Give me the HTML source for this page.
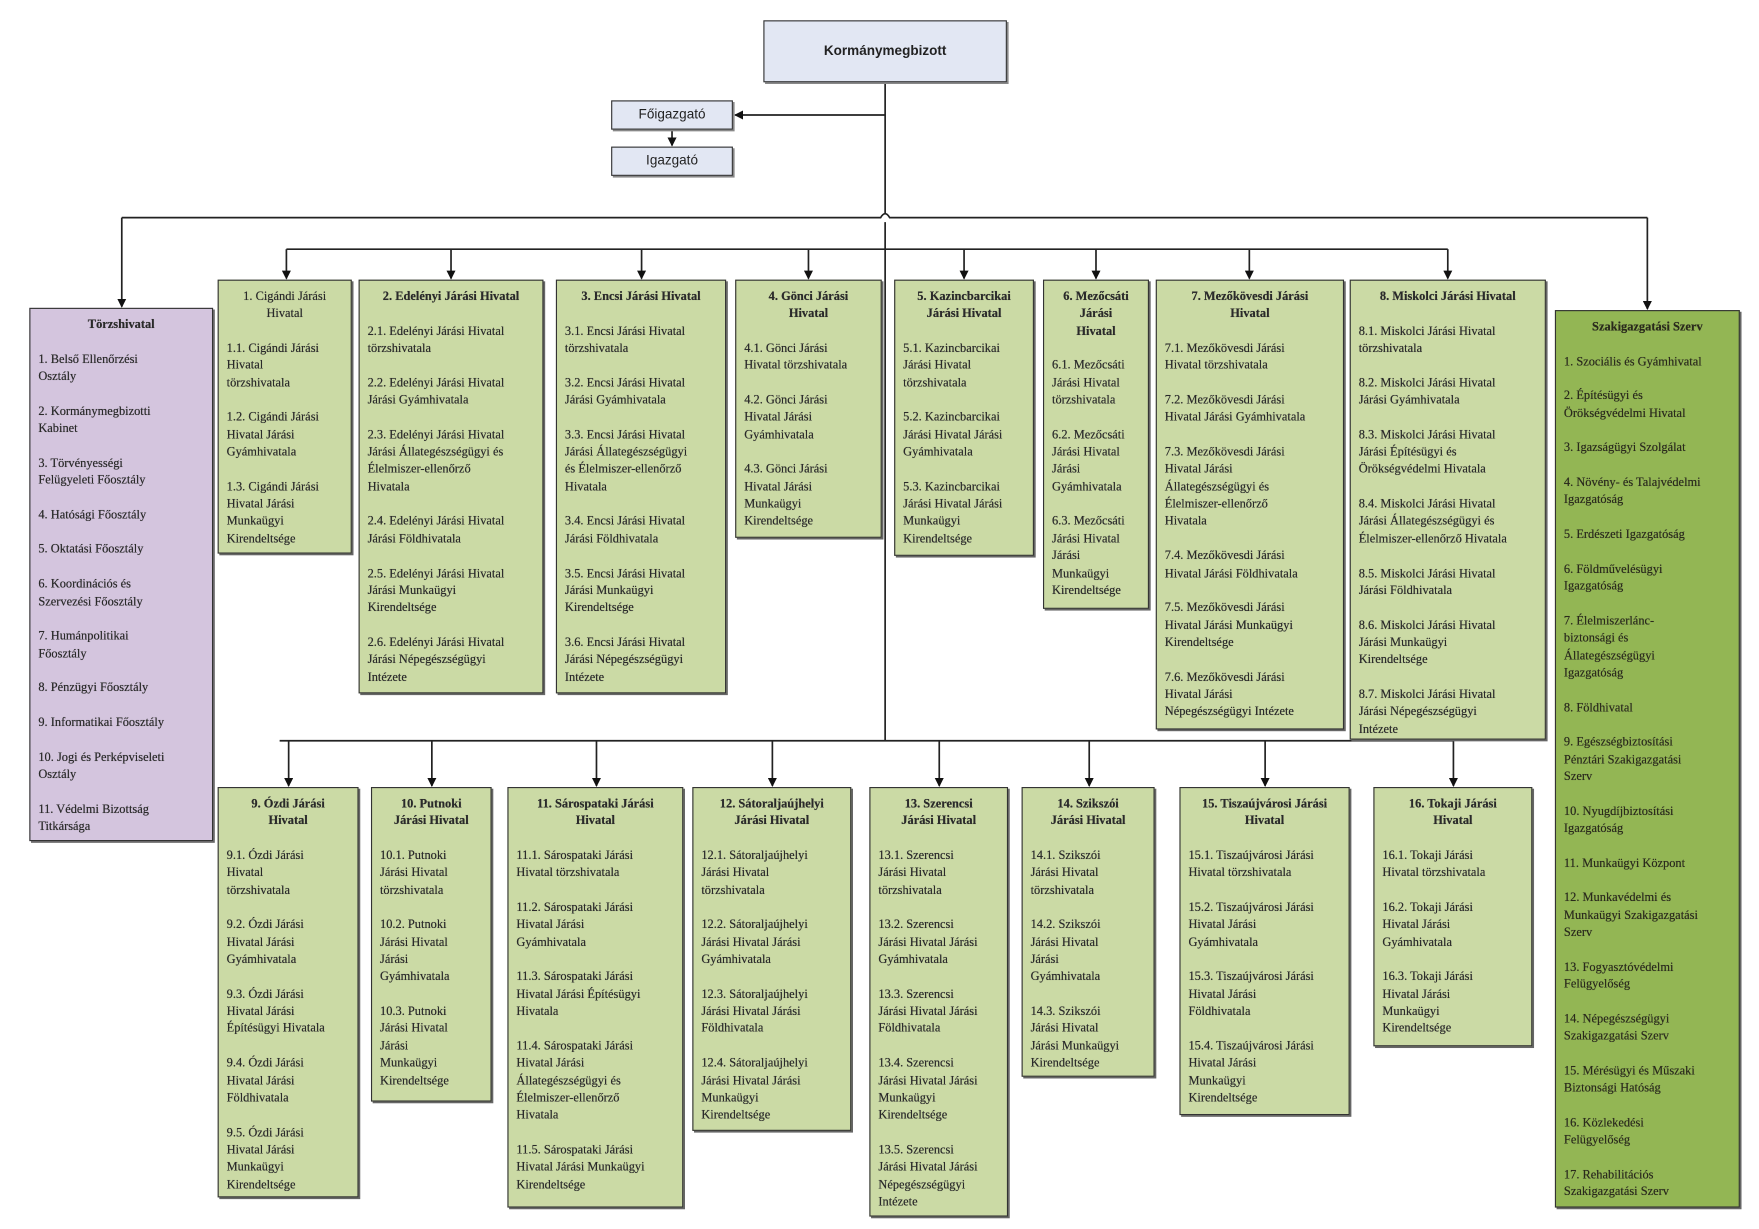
<!DOCTYPE html>
<html><head><meta charset="utf-8"><style>
html,body{margin:0;padding:0;background:#fff;width:1759px;height:1229px;overflow:hidden}
#s{position:absolute;left:0;top:0;width:1560px;height:1090px;transform:scale(1.12756,1.12752);transform-origin:0 0}
.b{position:absolute;box-sizing:border-box;border:1.5px solid #333;box-shadow:1.5px 1.5px 0 #666;background:#cbdaa5;font-family:"Liberation Serif",serif;font-size:11px;line-height:15.35px;color:#2a2a2a;padding:7px 0 0 7px;white-space:nowrap;text-shadow:0 0 0.4px #333}
.b p{margin:0 0 15.35px 0}
.b .t{font-weight:bold;text-align:center;margin-left:-7px}
.n{position:absolute;box-sizing:border-box;border:1.5px solid #333;box-shadow:1.5px 1.5px 0 #888;background:#e2e7f3;font-family:"Liberation Sans",sans-serif;font-size:12px;color:#222;text-align:center}
svg{position:absolute;left:0;top:0}
</style></head><body><div id="s">
<svg width="1560" height="1090" viewBox="0 0 1560 1090">
<defs><marker id="a" markerWidth="8" markerHeight="8" refX="7" refY="4" orient="auto" markerUnits="userSpaceOnUse"><path d="M0,0 L8,4 L0,8z" fill="#111"/></marker></defs>
<g stroke="#222" stroke-width="1.5" fill="none">
<path d="M785 73 V189 M785 197 V657"/>
<path d="M785 102 H652" marker-end="url(#a)"/>
<path d="M596 115 V129" marker-end="url(#a)"/>
<path d="M108 193 H781 Q785 186 789 193 H1461"/>
<path d="M108 193 V272" marker-end="url(#a)"/>
<path d="M1461 193 V274" marker-end="url(#a)"/>
<path d="M254 221 H1284"/>
<path d="M254 221V247" marker-end="url(#a)"/>
<path d="M400 221V247" marker-end="url(#a)"/>
<path d="M569 221V247" marker-end="url(#a)"/>
<path d="M717 221V247" marker-end="url(#a)"/>
<path d="M855 221V247" marker-end="url(#a)"/>
<path d="M972 221V247" marker-end="url(#a)"/>
<path d="M1108 221V247" marker-end="url(#a)"/>
<path d="M1284 221V247" marker-end="url(#a)"/>
<path d="M248 657 H1289"/>
<path d="M256 657V697" marker-end="url(#a)"/>
<path d="M383 657V697" marker-end="url(#a)"/>
<path d="M529 657V697" marker-end="url(#a)"/>
<path d="M685 657V697" marker-end="url(#a)"/>
<path d="M833 657V697" marker-end="url(#a)"/>
<path d="M966 657V697" marker-end="url(#a)"/>
<path d="M1122 657V697" marker-end="url(#a)"/>
<path d="M1289 657V697" marker-end="url(#a)"/>
</g></svg>
<div class="n" style="left:677px;top:18px;width:216px;height:55px;line-height:52px;font-weight:bold">Kormánymegbizott</div>
<div class="n" style="left:542px;top:89px;width:108px;height:26px;line-height:23px">Főigazgató</div>
<div class="n" style="left:542px;top:130px;width:108px;height:26px;line-height:23px">Igazgató</div>

<div class="b" style="left:26px;top:273px;width:163px;height:473px;background:#d4c5de;padding-top:7px"><p class="t">Törzshivatal</p><p>1. Belső Ellenőrzési<br>Osztály</p><p>2. Kormánymegbizotti<br>Kabinet</p><p>3. Törvényességi<br>Felügyeleti Főosztály</p><p>4. Hatósági Főosztály</p><p>5. Oktatási Főosztály</p><p>6. Koordinációs és<br>Szervezési Főosztály</p><p>7. Humánpolitikai<br>Főosztály</p><p>8. Pénzügyi Főosztály</p><p>9. Informatikai Főosztály</p><p>10. Jogi és Perképviseleti<br>Osztály</p><p>11. Védelmi Bizottság<br>Titkársága</p></div>

<div class="b" style="left:1379px;top:275px;width:164px;height:796px;background:#93b654;padding-top:7px;color:#2a2a1a"><p class="t">Szakigazgatási Szerv</p><p>1. Szociális és Gyámhivatal</p><p>2. Építésügyi és<br>Örökségvédelmi Hivatal</p><p>3. Igazságügyi Szolgálat</p><p>4. Növény- és Talajvédelmi<br>Igazgatóság</p><p>5. Erdészeti Igazgatóság</p><p>6. Földművelésügyi<br>Igazgatóság</p><p>7. Élelmiszerlánc-<br>biztonsági és<br>Állategészségügyi<br>Igazgatóság</p><p>8. Földhivatal</p><p>9. Egészségbiztosítási<br>Pénztári Szakigazgatási<br>Szerv</p><p>10. Nyugdíjbiztosítási<br>Igazgatóság</p><p>11. Munkaügyi Központ</p><p>12. Munkavédelmi és<br>Munkaügyi Szakigazgatási<br>Szerv</p><p>13. Fogyasztóvédelmi<br>Felügyelőség</p><p>14. Népegészségügyi<br>Szakigazgatási Szerv</p><p>15. Mérésügyi és Műszaki<br>Biztonsági Hatóság</p><p>16. Közlekedési<br>Felügyelőség</p><p>17. Rehabilitációs<br>Szakigazgatási Szerv</p></div>

<div class="b" style="left:193px;top:248px;width:119px;height:243px"><p class="t" style="font-weight:normal">1. Cigándi Járási<br>Hivatal</p><p>1.1. Cigándi Járási<br>Hivatal<br>törzshivatala</p><p>1.2. Cigándi Járási<br>Hivatal Járási<br>Gyámhivatala</p><p>1.3. Cigándi Járási<br>Hivatal Járási<br>Munkaügyi<br>Kirendeltsége</p></div>

<div class="b" style="left:318px;top:248px;width:164px;height:367px"><p class="t">2. Edelényi Járási Hivatal</p><p>2.1. Edelényi Járási Hivatal<br>törzshivatala</p><p>2.2. Edelényi Járási Hivatal<br>Járási Gyámhivatala</p><p>2.3. Edelényi Járási Hivatal<br>Járási Állategészségügyi és<br>Élelmiszer-ellenőrző<br>Hivatala</p><p>2.4. Edelényi Járási Hivatal<br>Járási Földhivatala</p><p>2.5. Edelényi Járási Hivatal<br>Járási Munkaügyi<br>Kirendeltsége</p><p>2.6. Edelényi Járási Hivatal<br>Járási Népegészségügyi<br>Intézete</p></div>

<div class="b" style="left:493px;top:248px;width:151px;height:367px"><p class="t">3. Encsi Járási Hivatal</p><p>3.1. Encsi Járási Hivatal<br>törzshivatala</p><p>3.2. Encsi Járási Hivatal<br>Járási Gyámhivatala</p><p>3.3. Encsi Járási Hivatal<br>Járási Állategészségügyi<br>és Élelmiszer-ellenőrző<br>Hivatala</p><p>3.4. Encsi Járási Hivatal<br>Járási Földhivatala</p><p>3.5. Encsi Járási Hivatal<br>Járási Munkaügyi<br>Kirendeltsége</p><p>3.6. Encsi Járási Hivatal<br>Járási Népegészségügyi<br>Intézete</p></div>

<div class="b" style="left:652px;top:248px;width:130px;height:229px"><p class="t">4. Gönci Járási<br>Hivatal</p><p>4.1. Gönci Járási<br>Hivatal törzshivatala</p><p>4.2. Gönci Járási<br>Hivatal Járási<br>Gyámhivatala</p><p>4.3. Gönci Járási<br>Hivatal Járási<br>Munkaügyi<br>Kirendeltsége</p></div>

<div class="b" style="left:793px;top:248px;width:124px;height:245px"><p class="t">5. Kazincbarcikai<br>Járási Hivatal</p><p>5.1. Kazincbarcikai<br>Járási Hivatal<br>törzshivatala</p><p>5.2. Kazincbarcikai<br>Járási Hivatal Járási<br>Gyámhivatala</p><p>5.3. Kazincbarcikai<br>Járási Hivatal Járási<br>Munkaügyi<br>Kirendeltsége</p></div>

<div class="b" style="left:925px;top:248px;width:94px;height:292px"><p class="t">6. Mezőcsáti<br>Járási<br>Hivatal</p><p>6.1. Mezőcsáti<br>Járási Hivatal<br>törzshivatala</p><p>6.2. Mezőcsáti<br>Járási Hivatal<br>Járási<br>Gyámhivatala</p><p>6.3. Mezőcsáti<br>Járási Hivatal<br>Járási<br>Munkaügyi<br>Kirendeltsége</p></div>

<div class="b" style="left:1025px;top:248px;width:167px;height:399px"><p class="t">7. Mezőkövesdi Járási<br>Hivatal</p><p>7.1. Mezőkövesdi Járási<br>Hivatal törzshivatala</p><p>7.2. Mezőkövesdi Járási<br>Hivatal Járási Gyámhivatala</p><p>7.3. Mezőkövesdi Járási<br>Hivatal Járási<br>Állategészségügyi és<br>Élelmiszer-ellenőrző<br>Hivatala</p><p>7.4. Mezőkövesdi Járási<br>Hivatal Járási Földhivatala</p><p>7.5. Mezőkövesdi Járási<br>Hivatal Járási Munkaügyi<br>Kirendeltsége</p><p>7.6. Mezőkövesdi Járási<br>Hivatal Járási<br>Népegészségügyi Intézete</p></div>

<div class="b" style="left:1197px;top:248px;width:174px;height:408px"><p class="t">8. Miskolci Járási Hivatal</p><p>8.1. Miskolci Járási Hivatal<br>törzshivatala</p><p>8.2. Miskolci Járási Hivatal<br>Járási Gyámhivatala</p><p>8.3. Miskolci Járási Hivatal<br>Járási Építésügyi és<br>Örökségvédelmi Hivatala</p><p>8.4. Miskolci Járási Hivatal<br>Járási Állategészségügyi és<br>Élelmiszer-ellenőrző Hivatala</p><p>8.5. Miskolci Járási Hivatal<br>Járási Földhivatala</p><p>8.6. Miskolci Járási Hivatal<br>Járási Munkaügyi<br>Kirendeltsége</p><p>8.7. Miskolci Járási Hivatal<br>Járási Népegészségügyi<br>Intézete</p></div>

<div class="b" style="left:193px;top:698px;width:125px;height:364px"><p class="t">9. Ózdi Járási<br>Hivatal</p><p>9.1. Ózdi Járási<br>Hivatal<br>törzshivatala</p><p>9.2. Ózdi Járási<br>Hivatal Járási<br>Gyámhivatala</p><p>9.3. Ózdi Járási<br>Hivatal Járási<br>Építésügyi Hivatala</p><p>9.4. Ózdi Járási<br>Hivatal Járási<br>Földhivatala</p><p>9.5. Ózdi Járási<br>Hivatal Járási<br>Munkaügyi<br>Kirendeltsége</p></div>

<div class="b" style="left:329px;top:698px;width:107px;height:279px"><p class="t">10. Putnoki<br>Járási Hivatal</p><p>10.1. Putnoki<br>Járási Hivatal<br>törzshivatala</p><p>10.2. Putnoki<br>Járási Hivatal<br>Járási<br>Gyámhivatala</p><p>10.3. Putnoki<br>Járási Hivatal<br>Járási<br>Munkaügyi<br>Kirendeltsége</p></div>

<div class="b" style="left:450px;top:698px;width:156px;height:373px"><p class="t">11. Sárospataki Járási<br>Hivatal</p><p>11.1. Sárospataki Járási<br>Hivatal törzshivatala</p><p>11.2. Sárospataki Járási<br>Hivatal Járási<br>Gyámhivatala</p><p>11.3. Sárospataki Járási<br>Hivatal Járási Építésügyi<br>Hivatala</p><p>11.4. Sárospataki Járási<br>Hivatal Járási<br>Állategészségügyi és<br>Élelmiszer-ellenőrző<br>Hivatala</p><p>11.5. Sárospataki Járási<br>Hivatal Járási Munkaügyi<br>Kirendeltsége</p></div>

<div class="b" style="left:614px;top:698px;width:141px;height:305px"><p class="t">12. Sátoraljaújhelyi<br>Járási Hivatal</p><p>12.1. Sátoraljaújhelyi<br>Járási Hivatal<br>törzshivatala</p><p>12.2. Sátoraljaújhelyi<br>Járási Hivatal Járási<br>Gyámhivatala</p><p>12.3. Sátoraljaújhelyi<br>Járási Hivatal Járási<br>Földhivatala</p><p>12.4. Sátoraljaújhelyi<br>Járási Hivatal Járási<br>Munkaügyi<br>Kirendeltsége</p></div>

<div class="b" style="left:771px;top:698px;width:123px;height:381px"><p class="t">13. Szerencsi<br>Járási Hivatal</p><p>13.1. Szerencsi<br>Járási Hivatal<br>törzshivatala</p><p>13.2. Szerencsi<br>Járási Hivatal Járási<br>Gyámhivatala</p><p>13.3. Szerencsi<br>Járási Hivatal Járási<br>Földhivatala</p><p>13.4. Szerencsi<br>Járási Hivatal Járási<br>Munkaügyi<br>Kirendeltsége</p><p>13.5. Szerencsi<br>Járási Hivatal Járási<br>Népegészségügyi<br>Intézete</p></div>

<div class="b" style="left:906px;top:698px;width:118px;height:257px"><p class="t">14. Szikszói<br>Járási Hivatal</p><p>14.1. Szikszói<br>Járási Hivatal<br>törzshivatala</p><p>14.2. Szikszói<br>Járási Hivatal<br>Járási<br>Gyámhivatala</p><p>14.3. Szikszói<br>Járási Hivatal<br>Járási Munkaügyi<br>Kirendeltsége</p></div>

<div class="b" style="left:1046px;top:698px;width:151px;height:291px"><p class="t">15. Tiszaújvárosi Járási<br>Hivatal</p><p>15.1. Tiszaújvárosi Járási<br>Hivatal törzshivatala</p><p>15.2. Tiszaújvárosi Járási<br>Hivatal Járási<br>Gyámhivatala</p><p>15.3. Tiszaújvárosi Járási<br>Hivatal Járási<br>Földhivatala</p><p>15.4. Tiszaújvárosi Járási<br>Hivatal Járási<br>Munkaügyi<br>Kirendeltsége</p></div>

<div class="b" style="left:1218px;top:698px;width:141px;height:230px"><p class="t">16. Tokaji Járási<br>Hivatal</p><p>16.1. Tokaji Járási<br>Hivatal törzshivatala</p><p>16.2. Tokaji Járási<br>Hivatal Járási<br>Gyámhivatala</p><p>16.3. Tokaji Járási<br>Hivatal Járási<br>Munkaügyi<br>Kirendeltsége</p></div>
</div></body></html>
